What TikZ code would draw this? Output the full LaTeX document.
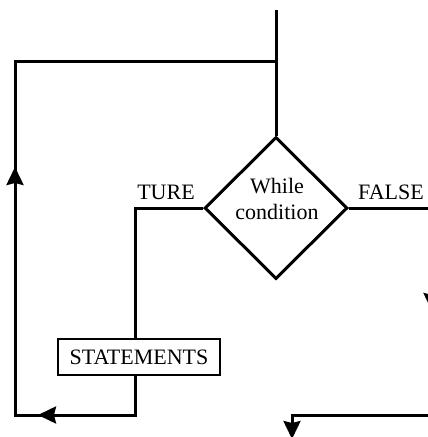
\documentclass[tikz,border=0pt]{standalone}
\usepackage{fontspec}
\setmainfont{Liberation Serif}
\usetikzlibrary{shapes.geometric,arrows.meta,decorations.markings}
\begin{document}
\begin{tikzpicture}[x=1pt,y=1pt,
  line width=3pt,
  >={Stealth[length=18pt,width=17pt,inset=2pt]},
  txt/.style={font=\fontsize{22}{26}\selectfont, inner sep=0pt, align=center},
  box/.style={draw, line width=2.4pt, minimum width=162pt, minimum height=36pt, inner sep=0pt, font=\fontsize{22}{26}\selectfont},
  dec/.style={draw, shape=diamond, minimum width=143pt, minimum height=142pt, inner sep=0pt, aspect=1},
  loop/.style={postaction={decorate}, decoration={markings,
      mark=at position 137pt with {\arrow{>}},
      mark=at position 408pt with {\arrow{>}}}}]
\useasboundingbox (0,0) rectangle (428,-437);
\clip (0,0) rectangle (428,-437);
% nodes
\node[dec] (cond) at (276,-208) {};
\node[txt] (condtxt) at (277,-199) {While\\condition};
\node[box] (stmt) at (139,-357) {STATEMENTS};
\node[txt, anchor=base] (ture) at (166,-199) {TURE};
\node[txt, anchor=base] (false) at (391,-199) {FALSE};
% coordinates
\coordinate (top) at (276,-10);
\coordinate (junc) at (276,-61);
\coordinate (lt) at (15,-61);
\coordinate (lb) at (15,-415);
\coordinate (rb) at (135,-415);
\coordinate (st) at (135,-339);
\coordinate (sb) at (135,-375);
\coordinate (fe) at (432,-208);
\coordinate (ra1) at (432,-270);
\coordinate (ra2) at (432,-311);
\coordinate (br) at (432,-415);
\coordinate (bc) at (292,-415);
\coordinate (bt) at (292,-439);
% connectors
\draw (top) -- (cond.north);
\draw (cond.west) -| (st);
\draw[loop] (sb) -- (rb) -- (lb) -- (lt) -- (junc);
\draw (cond.east) -- (fe);
\draw[->] (ra1) -- (ra2);
\draw[->] (br) -- (bc) -- (bt);
\end{tikzpicture}
\end{document}
